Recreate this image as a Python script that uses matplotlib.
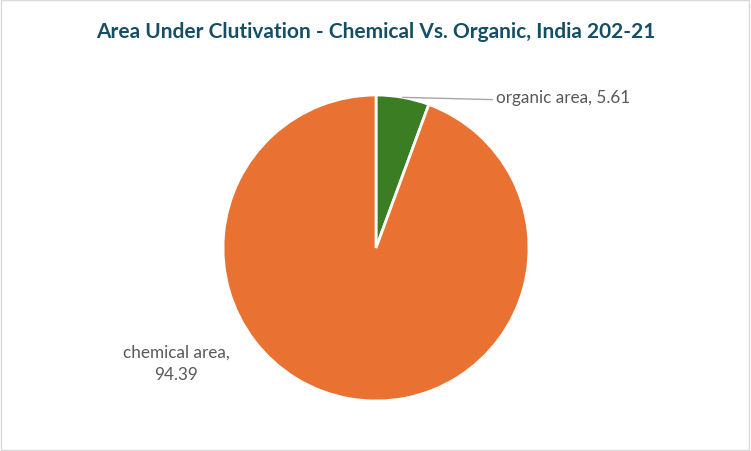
import numpy as np
import matplotlib.pyplot as plt

# Data
categories = ["organic area", "chemical area"]
values = [5.61, 94.39]
colours = ["#3B7D23", "#E97132"]

fig = plt.figure(figsize=(7.51, 4.52), dpi=100)
fig.patch.set_facecolor("white")

# thin border around the chart area
border = plt.Rectangle((0.001, 0.002), 0.997, 0.995, transform=fig.transFigure,
                       fill=False, edgecolor="#D9D9D9", linewidth=1)
fig.add_artist(border)

fig.text(0.5, 1 - 32 / 452, "Area Under Clutivation - Chemical Vs. Organic, India 202-21",
         ha="center", va="center", fontsize=15, fontweight="bold",
         color="#154F66", family="Lato")

# pie centre (376, 249) px, radius 153 px
cx, cy, r = 376, 249, 153
ax = fig.add_axes([(cx - r) / 751, 1 - (cy + r) / 452, 2 * r / 751, 2 * r / 452])
wedges, _ = ax.pie(values, colors=colours, startangle=90, counterclock=False,
                   wedgeprops=dict(edgecolor="white", linewidth=2))
ax.set_aspect("equal")
ax.set_xlim(-1, 1)
ax.set_ylim(-1, 1)

# organic label with leader line
ang = np.deg2rad(90 - 360 * values[0] / 100 * 0.5)
px, py = np.cos(ang), np.sin(ang)
ax.plot([px * 1.0, 0.76], [py * 1.0, 0.97], color="#A6A6A6", linewidth=1)
ax.text(0.785, 0.99, f"{categories[0]}, {values[0]}", ha="left", va="center",
        fontsize=12.3, color="#595959", family="Lato")

# chemical label
fig.text(176 / 751, 1 - 364 / 452, f"{categories[1]},\n{values[1]}", ha="center",
         va="center", fontsize=12.3, color="#595959", family="Lato", linespacing=1.45)

fig.savefig("out.png", dpi=100, facecolor="white")
